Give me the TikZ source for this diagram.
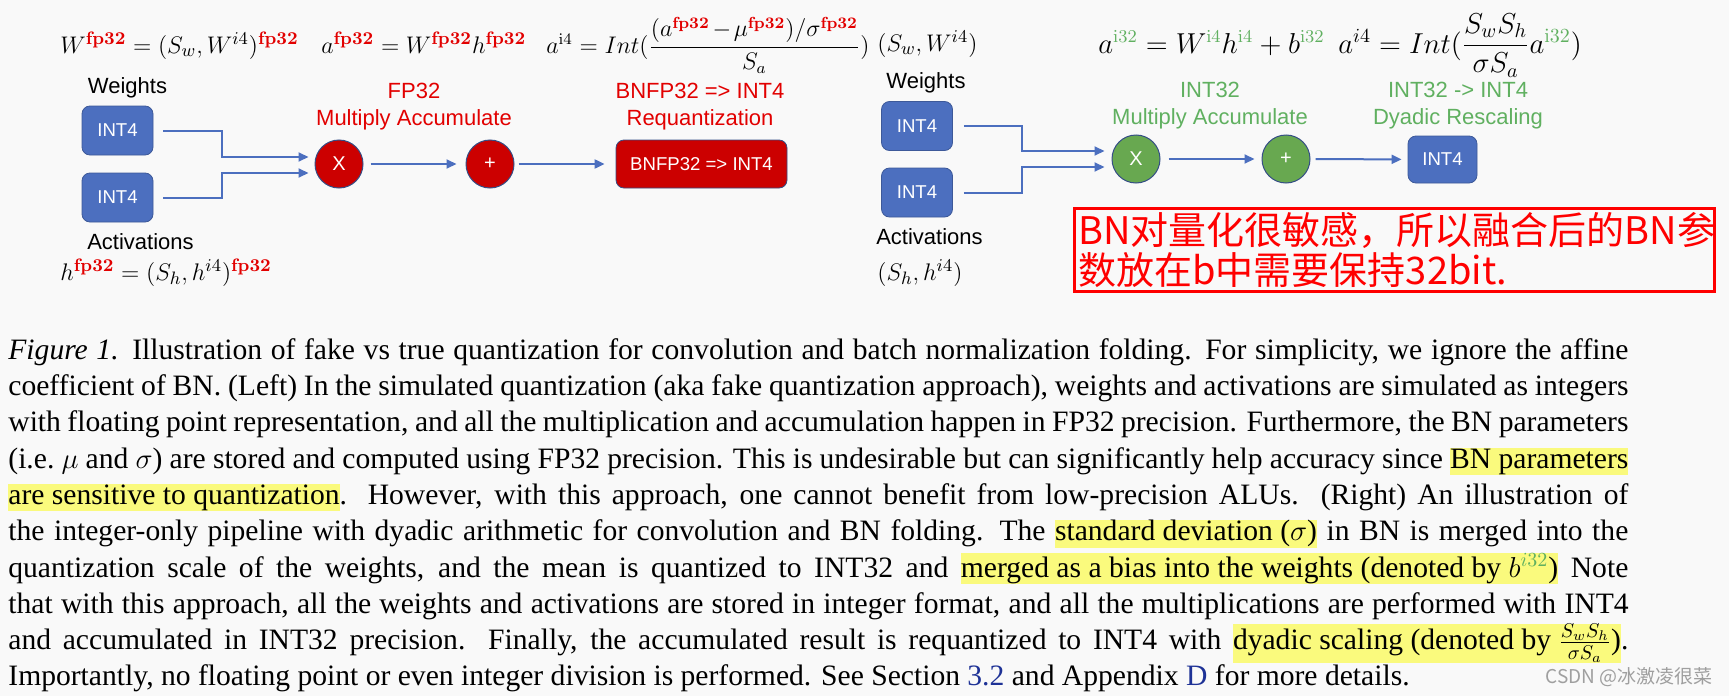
\documentclass[tikz,border=0pt]{standalone}
\usepackage{amsmath}
\usepackage[no-math]{fontspec}
\setmainfont{Liberation Serif}
\newfontfamily\diagfont{Liberation Sans}
\newfontfamily\cjkfont{Noto Sans CJK SC}
\usepackage{xcolor}
\usetikzlibrary{arrows.meta, positioning, calc}

\definecolor{boxblue}{RGB}{76,111,191}
\definecolor{linkblue}{RGB}{30,50,150}
\definecolor{macred}{RGB}{204,0,0}
\definecolor{labred}{RGB}{226,0,0}
\definecolor{macgreen}{RGB}{104,168,80}
\definecolor{labgreen}{RGB}{96,176,96}
\definecolor{hlyellow}{RGB}{250,250,125}
\definecolor{bgcol}{RGB}{249,249,249}

\newcommand{\fpr}{{\color{labred}\mathbf{fp32}}}
\newcommand{\gsup}[1]{{\color{labgreen}\mathrm{#1}}}
\newcommand{\hlbox}[1]{{\setlength{\fboxsep}{0pt}\colorbox{hlyellow}{\rule[-3.5pt]{0pt}{13.5pt}#1}}}

\begin{document}
\begin{tikzpicture}[
  x=0.5pt, y=-0.5pt,
  inbox/.style={rectangle, rounded corners=4pt, fill=boxblue, draw=boxblue!80!black, line width=0.4pt, minimum width=35.5pt, minimum height=24.5pt, inner sep=0pt, text=white, font=\diagfont\fontsize{9.3}{11}\selectfont},
  op/.style={circle, minimum size=24pt, inner sep=0pt, text=white, draw=boxblue!70!black, line width=0.5pt, font=\diagfont\fontsize{10}{12}\selectfont},
  opred/.style={op, fill=macred},
  opgreen/.style={op, fill=macgreen},
  lbl/.style={font=\diagfont\fontsize{11}{13.5}\selectfont, align=center, inner sep=0pt},
  eq/.style={anchor=base west, inner sep=0pt, font=\fontsize{13}{15}\selectfont},
  arrow/.style={-{Triangle[length=5pt,width=4.5pt]}, line width=1pt, draw=boxblue}
]
\fill[bgcol] (0,0) rectangle (1729,696);
\useasboundingbox (0,0) rectangle (1729,696);

% fake quantization (left)
\node[eq] (eqw) at (60,53) {$W^{\fpr}=(S_w,W^{i4})^{\fpr}$};
\node[eq] (eqa) at (321,53) {$a^{\fpr}=W^{\fpr}h^{\fpr}$};
\node[eq, font=\fontsize{11.8}{15}\selectfont] (eqq) at (546,53) {$a^{\mathrm{i4}}=Int(\dfrac{(a^{\fpr}\mkern2mu{-}\mkern2mu\mu^{\fpr})/\sigma^{\fpr}}{S_a})$};
\node[eq] (eqh) at (60,280) {$h^{\fpr}=(S_h,h^{i4})^{\fpr}$};

\node[lbl] (wlblL) at (127.5,88) {Weights};
\node[inbox] (wL) at (117.5,130.5) {INT4};
\node[inbox] (hL) at (117.5,197.5) {INT4};
\node[lbl] (albL) at (140.5,242) {Activations};

\node[opred] (mulL) at (339,164) {X};
\node[opred] (addL) at (490,164) {+};
\node[rectangle, rounded corners=4pt, fill=macred, draw=boxblue!70!black, line width=0.4pt, minimum width=85.5pt, minimum height=24pt, text=white, font=\diagfont\fontsize{9.3}{11}\selectfont] (bnL) at (701.5,164) {BNFP32 => INT4};

\node[lbl, text=labred] (macL) at (414,106.5) {FP32\\Multiply Accumulate};
\node[lbl, text=labred] (reqL) at (700,106.5) {BNFP32 => INT4\\Requantization};

\draw[arrow] ([xshift=5pt]wL.east) -- ++(29.5pt,0) |- ([xshift=-3pt,yshift=3.5pt]mulL.west);
\draw[arrow] ([xshift=5pt]hL.east) -- ++(29.5pt,0) |- ([xshift=-3pt,yshift=-4.5pt]mulL.west);
\draw[arrow, shorten <=3.5pt, shorten >=4.5pt] (mulL) -- (addL);
\draw[arrow, shorten <=2pt, shorten >=5.5pt] (addL) -- (bnL);

% integer-only quantization (right)
\node[eq] (eqsw) at (877,51) {$(S_w,W^{i4})$};
\node[eq, font=\fontsize{13.5}{16}\selectfont] (eqai) at (1098,53) {$a^{\gsup{i32}}=W^{\gsup{i4}}h^{\gsup{i4}}+b^{\gsup{i32}}$};
\node[eq, font=\fontsize{14.6}{17}\selectfont] (eqr) at (1338,53) {$a^{i4}=Int(\dfrac{S_wS_h}{\sigma S_a}a^{\gsup{i32}})$};
\node[eq] (eqsh) at (877,280) {$(S_h,h^{i4})$};

\node[lbl] (wlblR) at (926,83) {Weights};
\node[inbox] (wR) at (917,126) {INT4};
\node[inbox] (hR) at (917,192.5) {INT4};
\node[lbl] (albR) at (929.5,237) {Activations};

\node[opgreen] (mulR) at (1136,159) {X};
\node[opgreen] (addR) at (1286,159) {+};
\node[inbox, minimum width=34.5pt, minimum height=23.5pt] (outR) at (1442.5,159.5) {INT4};

\node[lbl, text=labgreen] (macR) at (1210,106) {INT32\\Multiply Accumulate};
\node[lbl, text=labgreen] (dyaR) at (1458,106) {INT32 -> INT4\\Dyadic Rescaling};

\draw[arrow] ([xshift=5.5pt]wR.east) -- ++(29pt,0) |- ([xshift=-3.5pt,yshift=4pt]mulR.west);
\draw[arrow] ([xshift=5.5pt]hR.east) -- ++(29pt,0) |- ([xshift=-3.5pt,yshift=-4pt]mulR.west);
\draw[arrow, shorten <=4pt, shorten >=3.5pt] (mulR) -- (addR);
\draw[arrow, shorten <=2.5pt, shorten >=3pt] (addR) -- (outR);

% note
\node[draw=red, line width=1.5pt, anchor=north west, inner xsep=2pt, inner ysep=2pt, text width=316pt, align=left, text=red, font=\cjkfont\fontsize{19}{20}\selectfont] (note) at (1073,207) {BN对量化很敏感，所以融合后的BN参\\数放在b中需要保持32bit.};

% caption
\node[anchor=north west, inner sep=0pt, text width=810pt, align=justify, font=\fontsize{14.8}{18.15}\selectfont] (caption) at (8,338) {\lineskiplimit=-20pt
\textit{Figure 1.} Illustration of fake vs true quantization for convolution and batch normalization folding. For simplicity, we ignore the affine\linebreak
coefficient of BN. (Left) In the simulated quantization (aka fake quantization approach), weights and activations are simulated as integers\linebreak
with floating point representation, and all the multiplication and accumulation happen in FP32 precision. Furthermore, the BN parameters\linebreak
(i.e.\ $\mu$ and $\sigma$) are stored and computed using FP32 precision. This is undesirable but can significantly help accuracy since \hlbox{BN parameters}\linebreak
\hlbox{are sensitive to quantization}. However, with this approach, one cannot benefit from low-precision ALUs.\ \ (Right) An illustration of\linebreak
the integer-only pipeline with dyadic arithmetic for convolution and BN folding. The \hlbox{standard deviation ($\sigma$)} in BN is merged into the\linebreak
quantization scale of the weights, and the mean is quantized to INT32 and \hlbox{merged as a bias into the weights (denoted by $b^{\textcolor{labgreen}{i32}}$)} Note\linebreak
that with this approach, all the weights and activations are stored in integer format, and all the multiplications are performed with INT4\linebreak
and accumulated in INT32 precision. Finally, the accumulated result is requantized to INT4 with \hlbox{dyadic scaling (denoted by $\frac{S_wS_h}{\sigma S_a}$)}.\linebreak
Importantly, no floating point or even integer division is performed. See Section \textcolor{linkblue}{3.2} and Appendix \textcolor{linkblue}{D} for more details.};

\node[anchor=base east, inner sep=0pt, text=gray!75, font=\cjkfont\fontsize{9.5}{11}\selectfont] (mark) at (1713,683) {CSDN @冰激凌很菜};
\end{tikzpicture}
\end{document}
